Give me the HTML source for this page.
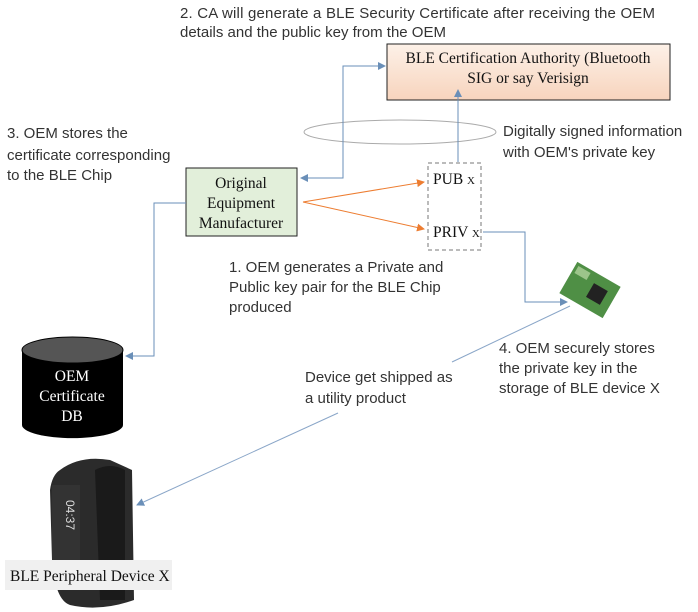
<!DOCTYPE html>
<html><head><style>
body{margin:0;background:#fff;}
svg{display:block;}
.s{font-family:"Liberation Sans",sans-serif;font-size:15px;fill:#333;}
.r{font-family:"Liberation Serif",serif;font-size:15.5px;fill:#111;}
</style></head><body>
<svg width="698" height="612" viewBox="0 0 698 612">
<defs>
<marker id="ab" markerWidth="8" markerHeight="8" refX="7" refY="4" orient="auto-start-reverse" markerUnits="userSpaceOnUse"><path d="M0,0 L8,4 L0,8 z" fill="#6a8fb8"/></marker>
<marker id="ao" markerWidth="8" markerHeight="8" refX="7" refY="4" orient="auto" markerUnits="userSpaceOnUse"><path d="M0,0 L8,4 L0,8 z" fill="#ed7d31"/></marker>
<linearGradient id="pe" x1="0" x2="0" y1="0" y2="1"><stop offset="0" stop-color="#fdf1e8"/><stop offset="1" stop-color="#f7d4bd"/></linearGradient>
</defs>
<text class="s" x="180" y="18" textLength="475">2. CA will generate a BLE Security Certificate after receiving the OEM</text>
<text class="s" x="180" y="37">details and the public key from the OEM</text>
<rect x="387" y="44" width="283" height="56" fill="url(#pe)" stroke="#222"/>
<text class="r" x="528" y="63" text-anchor="middle">BLE Certification Authority (Bluetooth</text>
<text class="r" x="528" y="83" text-anchor="middle">SIG or say Verisign</text>
<ellipse cx="400" cy="132" rx="96" ry="12" fill="none" stroke="#aaa"/>
<text class="s" x="503" y="136">Digitally signed information</text>
<text class="s" x="503" y="157">with OEM's private key</text>
<text class="s" x="7" y="138">3. OEM stores the</text>
<text class="s" x="7" y="160">certificate corresponding</text>
<text class="s" x="7" y="180">to the BLE Chip</text>
<rect x="186" y="168" width="111" height="68" fill="#e2efda" stroke="#222"/>
<text class="r" x="241" y="188" text-anchor="middle">Original</text>
<text class="r" x="241" y="208" text-anchor="middle">Equipment</text>
<text class="r" x="241" y="228" text-anchor="middle">Manufacturer</text>
<rect x="428" y="163" width="53" height="87" fill="none" stroke="#777" stroke-dasharray="4,3"/>
<text class="r" x="433" y="184">PUB <tspan font-size="11">X</tspan></text>
<text class="r" x="433" y="237">PRIV <tspan font-size="11">X</tspan></text>
<polyline points="301,178 343,178 343,66 385,66" fill="none" stroke="#6a8fb8" marker-start="url(#ab)" marker-end="url(#ab)"/>
<line x1="458" y1="162" x2="458" y2="90" stroke="#6a8fb8" marker-end="url(#ab)"/>
<line x1="303" y1="202" x2="424" y2="182" stroke="#ed7d31" marker-end="url(#ao)"/>
<line x1="303" y1="202" x2="424" y2="229" stroke="#ed7d31" marker-end="url(#ao)"/>
<polyline points="483,232 525,232 525,302 567,302" fill="none" stroke="#6a8fb8" marker-end="url(#ab)"/>
<polyline points="186,203 154,203 154,356 126,356" fill="none" stroke="#6a8fb8" marker-end="url(#ab)"/>
<g transform="rotate(30 590 290)"><rect x="565" y="272" width="50" height="36" fill="#4f8f45"/><rect x="590" y="282" width="16" height="16" fill="#222"/><rect x="568" y="275" width="14" height="8" fill="#9cc48a"/></g>
<text class="s" x="229" y="272">1. OEM generates a Private and</text>
<text class="s" x="229" y="292">Public key pair for the BLE Chip</text>
<text class="s" x="229" y="312">produced</text>
<line x1="570" y1="306" x2="452" y2="362" stroke="#8aa6c8"/>
<line x1="338" y1="413" x2="137" y2="505" stroke="#8aa6c8" marker-end="url(#ab)"/>
<text class="s" x="499" y="353">4. OEM securely stores</text>
<text class="s" x="499" y="373">the private key in the</text>
<text class="s" x="499" y="393">storage of BLE device X</text>
<text class="s" x="305" y="382">Device get shipped as</text>
<text class="s" x="305" y="403">a utility product</text>
<path d="M22,350 L22,425 A50,13 0 0 0 123,425 L123,350 Z" fill="#000"/>
<ellipse cx="72.5" cy="350" rx="50.5" ry="13" fill="#555" stroke="#000"/>
<text class="r" x="72" y="381" text-anchor="middle" style="fill:#fff">OEM</text>
<text class="r" x="72" y="401" text-anchor="middle" style="fill:#fff">Certificate</text>
<text class="r" x="72" y="421" text-anchor="middle" style="fill:#fff">DB</text>
<path d="M60,470 Q80,455 110,460 L132,470 L134,600 Q100,612 70,605 Q55,600 52,560 L50,490 Q52,475 60,470 Z" fill="#2b2b2b"/>
<rect x="52" y="485" width="28" height="80" fill="#333"/>
<path d="M95,470 Q110,462 125,470 L125,600 L100,600 Z" fill="#1a1a1a"/>
<text x="66" y="500" transform="rotate(90 66 500)" font-family="Liberation Sans,sans-serif" font-size="12" fill="#ddd">04:37</text>
<rect x="5" y="560" width="167" height="30" fill="#f0f0f0"/>
<text class="r" x="10" y="581">BLE Peripheral Device X</text>
</svg>
</body></html>
